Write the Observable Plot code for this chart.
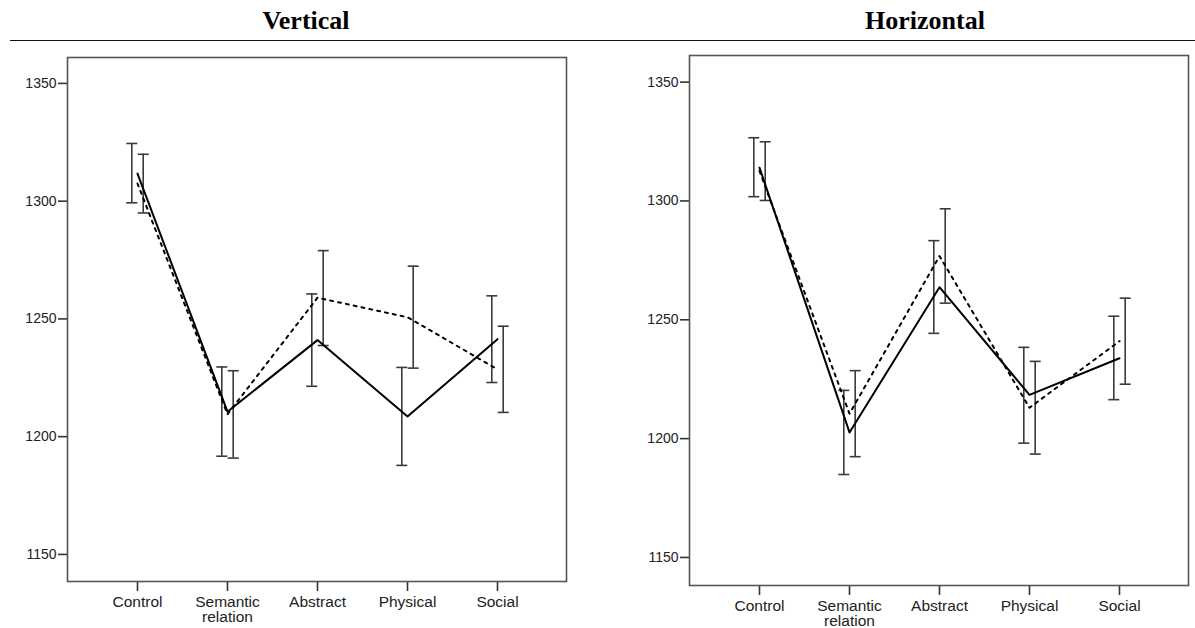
<!DOCTYPE html>
<html><head><meta charset="utf-8">
<script src="https://cdn.jsdelivr.net/npm/d3@7"></script>
<script src="https://cdn.jsdelivr.net/npm/@observablehq/plot@0.6"></script>
<style>
body{margin:0;background:#fff;width:1195px;height:628px;position:relative;overflow:hidden}
.title{position:absolute;font-family:"Liberation Serif","Times New Roman",serif;font-weight:bold;font-size:26px;line-height:30px;transform:translateX(-50%);top:6px;color:#000;white-space:nowrap}
#rule{position:absolute;left:10px;right:0;top:40px;height:0;border-top:1.5px solid #111}
.panel{position:absolute;top:0}
</style></head><body>
<div class="title" style="left:306px">Vertical</div>
<div class="title" style="left:925px">Horizontal</div>
<div id="rule"></div>
<div id="left" class="panel" style="left:0"></div>
<div id="right" class="panel" style="left:622px"></div>
<script>
const categories = ["Control","Semantic relation","Abstract","Physical","Social"];
const tickLabels = ["Control","Semantic\nrelation","Abstract","Physical","Social"];
const yTicks = [1150,1200,1250,1300,1350];
const panelTitles = ["Vertical","Horizontal"];

// Vertical panel
const vSolidMean = [1311.7,1210.6,1241.0,1208.6,1241.4];
const vSolidLo   = [1299.3,1191.7,1221.4,1187.8,1223.0];
const vSolidHi   = [1324.5,1229.6,1260.6,1229.4,1259.8];
const vDotMean   = [1307.5,1209.5,1259.0,1250.7,1228.6];
const vDotLo     = [1295.0,1190.9,1238.7,1229.1,1210.3];
const vDotHi     = [1319.9,1228.0,1279.0,1272.4,1246.9];

// Horizontal panel
const hSolidMean = [1314.0,1202.6,1263.7,1218.4,1233.8];
const hSolidLo   = [1301.8,1184.9,1244.3,1198.1,1216.4];
const hSolidHi   = [1326.6,1220.3,1283.3,1238.4,1251.5];
const hDotMean   = [1312.6,1210.5,1276.8,1213.0,1241.0];
const hDotLo     = [1300.2,1192.4,1257.0,1193.5,1222.9];
const hDotHi     = [1324.9,1228.6,1296.7,1232.5,1259.1];

const rows = (mean, lo, hi) => categories.map((c, i) => ({cat: c, mean: mean[i], lo: lo[i], hi: hi[i]}));
const labelOf = Object.fromEntries(categories.map((c, i) => [c, tickLabels[i]]));

const capSymbol = {draw(ctx, size) { const r = Math.sqrt(size / Math.PI); ctx.moveTo(-r, 0); ctx.lineTo(r, 0); }};

function panel(solid, dotted, opts) {
  const off = 5.7, barColor = "#3a3a3a";
  const errMarks = (data, dx) => [
    Plot.ruleX(data, {x: "cat", y1: "lo", y2: "hi", dx, stroke: barColor, strokeWidth: 1.6}),
    Plot.dot(data, {x: "cat", y: "lo", dx, symbol: capSymbol, r: 5.5, fill: "none", stroke: barColor, strokeWidth: 1.6}),
    Plot.dot(data, {x: "cat", y: "hi", dx, symbol: capSymbol, r: 5.5, fill: "none", stroke: barColor, strokeWidth: 1.6})
  ];
  return Plot.plot({
    width: opts.width, height: 628,
    marginLeft: 67, marginRight: opts.marginRight, marginTop: opts.marginTop, marginBottom: opts.marginBottom,
    style: {fontFamily: "'Liberation Sans', Arial, sans-serif", color: "#222", background: "transparent"},
    x: {type: "point", domain: categories, padding: 0.772},
    y: {domain: opts.yDomain},
    marks: [
      Plot.axisY({ticks: yTicks, tickSize: 9, tickPadding: 2, tickFormat: d => String(d), fontSize: 14, stroke: "#333", strokeWidth: 1.6, label: null}),
      Plot.axisX({tickSize: 10, tickPadding: 5, tickFormat: d => labelOf[d], fontSize: 15.5, lineHeight: 0.95, stroke: "#333", strokeWidth: 1.6, label: null}),
      ...errMarks(solid, -off),
      ...errMarks(dotted, off),
      Plot.line(solid, {x: "cat", y: "mean", stroke: "#000", strokeWidth: 2}),
      Plot.line(dotted, {x: "cat", y: "mean", stroke: "#000", strokeWidth: 2, strokeDasharray: "3,5"}),
      Plot.frame({stroke: "#555", strokeWidth: 1.6})
    ]
  });
}

document.getElementById("left").append(panel(rows(vSolidMean, vSolidLo, vSolidHi), rows(vDotMean, vDotLo, vDotHi),
  {width: 600, marginRight: 34, marginTop: 57, marginBottom: 47, yDomain: [1138.5, 1361]}));
document.getElementById("right").append(panel(rows(hSolidMean, hSolidLo, hSolidHi), rows(hDotMean, hDotLo, hDotHi),
  {width: 573, marginRight: 7, marginTop: 55, marginBottom: 43, yDomain: [1138.2, 1361.2]}));
</script>
</body></html>
